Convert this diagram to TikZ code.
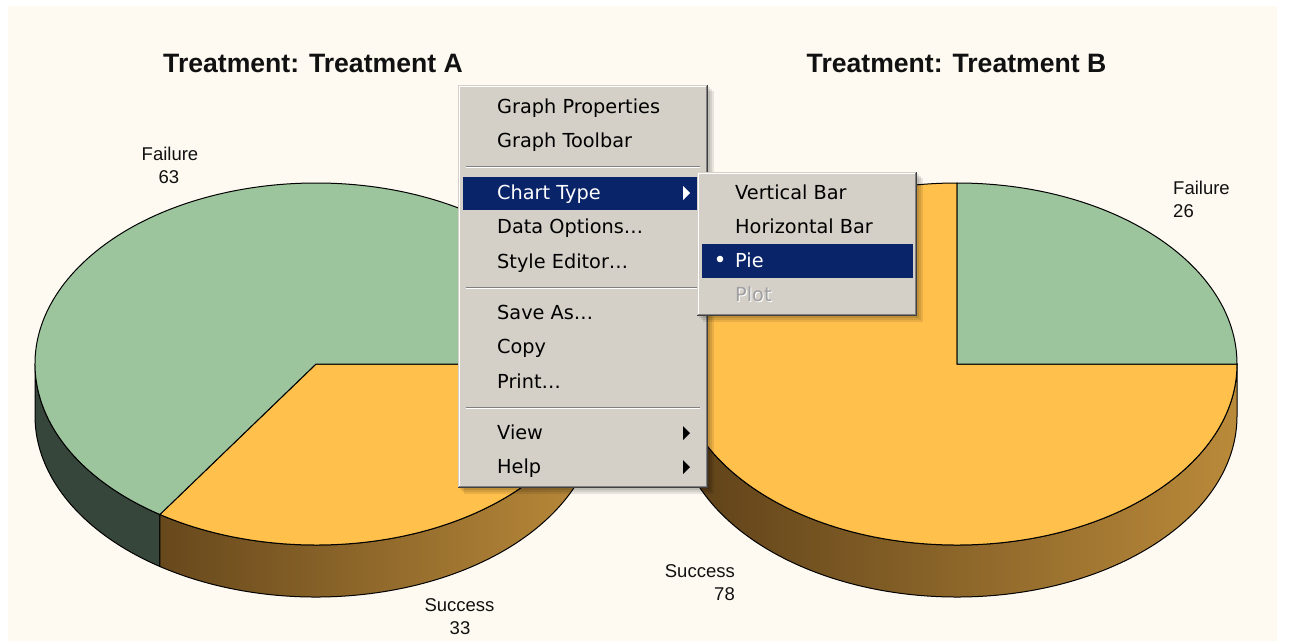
\documentclass[tikz,border=0pt]{standalone}
\usepackage{fontspec}
\setmainfont{Liberation Sans}
\newfontfamily\menufont{DejaVu Sans}
\definecolor{cream}{HTML}{FEFAF2}
\definecolor{piegreen}{HTML}{9DC59D}
\definecolor{pieorange}{HTML}{FFC04C}
\definecolor{sidegreen}{HTML}{37463A}
\definecolor{brownL}{HTML}{5E4119}
\definecolor{brownR}{HTML}{BA8A3A}
\definecolor{menugray}{HTML}{D4D0C8}
\definecolor{menudark}{HTML}{404040}
\definecolor{menumid}{HTML}{808080}
\definecolor{menuhi}{HTML}{0A246A}
\definecolor{menudis}{HTML}{A0A0A0}
\definecolor{inktext}{HTML}{111111}
\tikzset{
  pieedge/.style={draw=black, line width=1pt},
  titletext/.style={font=\bfseries\fontsize{26.6}{30}\selectfont, text=inktext, inner sep=0pt, anchor=base},
  pielabel/.style={font=\fontsize{18.5}{21}\selectfont, text=inktext, inner sep=0pt},
  menutext/.style={font=\menufont\fontsize{19.3}{22}\selectfont, anchor=base west, inner sep=0pt, text=black},
  menushadow/.style={fill=black, opacity=0.09},
  menuarrow/.style={fill=black},
}
\begin{document}
\begin{tikzpicture}[x=1pt,y=-1pt]
\useasboundingbox (0,0) rectangle (1316,641);
\fill[white] (0,0) rectangle (1316,641);
\fill[cream] (8,6) rectangle (1277,641);

% titles
\node[titletext] (titleA) at (313,72) {Treatment: Treatment A};
\node[titletext] (titleB) at (956.5,72) {Treatment: Treatment B};

% ---------- left pie ----------
\begin{scope}[shift={(316,364)}]
  \filldraw[fill=sidegreen, pieedge] (123.75:281 and 181) arc[start angle=123.75,end angle=180,x radius=281,y radius=181] -- ++(0,52) arc[start angle=180,end angle=123.75,x radius=281,y radius=181] -- cycle;
  \shade[left color=brownL!90!brownR, right color=brownR] (0:281 and 181) arc[start angle=0,end angle=123.75,x radius=281,y radius=181] -- ++(0,52) arc[start angle=123.75,end angle=0,x radius=281,y radius=181] -- cycle;
  \draw[pieedge] (0:281 and 181) arc[start angle=0,end angle=123.75,x radius=281,y radius=181] -- ++(0,52) arc[start angle=123.75,end angle=0,x radius=281,y radius=181] -- cycle;
  \filldraw[fill=pieorange, pieedge] (0,0) -- (0:281 and 181) arc[start angle=0,end angle=123.75,x radius=281,y radius=181] -- cycle;
  \filldraw[fill=piegreen, pieedge] (0,0) -- (123.75:281 and 181) arc[start angle=123.75,end angle=360,x radius=281,y radius=181] -- cycle;
\end{scope}

% ---------- right pie ----------
\begin{scope}[shift={(957,364)}]
  \shade[left color=brownL, right color=brownR] (0:280 and 181) arc[start angle=0,end angle=180,x radius=280,y radius=181] -- ++(0,52) arc[start angle=180,end angle=0,x radius=280,y radius=181] -- cycle;
  \draw[pieedge] (0:280 and 181) arc[start angle=0,end angle=180,x radius=280,y radius=181] -- ++(0,52) arc[start angle=180,end angle=0,x radius=280,y radius=181] -- cycle;
  \filldraw[fill=pieorange, pieedge] (0,0) -- (0:280 and 181) arc[start angle=0,end angle=270,x radius=280,y radius=181] -- cycle;
  \filldraw[fill=piegreen, pieedge] (0,0) -- (270:280 and 181) arc[start angle=270,end angle=360,x radius=280,y radius=181] -- cycle;
\end{scope}

% pie labels
\node[pielabel, anchor=base] (lfail) at (170,160) {Failure};
\node[pielabel, anchor=base] (lfailv) at (169,183) {63};
\node[pielabel, anchor=base] (lsucc) at (459.5,611) {Success};
\node[pielabel, anchor=base] (lsuccv) at (460,634) {33};
\node[pielabel, anchor=base west] (rfail) at (1173,194) {Failure};
\node[pielabel, anchor=base west] (rfailv) at (1173,217) {26};
\node[pielabel, anchor=base east] (rsucc) at (735,577) {Success};
\node[pielabel, anchor=base east] (rsuccv) at (735,600) {78};

% ---------- main context menu ----------
\fill[menushadow] (464,91) rectangle (714,494);
\fill[menushadow] (462,89) rectangle (712,492);
\fill[menushadow] (460,87) rectangle (710,490);
\fill[menugray] (458,85) rectangle (708,488);
\draw[white, line width=1pt] (459.5,486.5) -- (459.5,86.5) -- (706.5,86.5);
\draw[menumid, line width=1pt] (459,486.5) -- (706.5,486.5) -- (706.5,86);
\draw[menudark, line width=1pt] (458,487.5) -- (707.5,487.5) -- (707.5,85);

% separators
\foreach \sy in {166.5,287.5,407.5} {
  \draw[menumid, line width=1pt] (466,\sy) -- (700,\sy);
  \draw[white, line width=1pt] (466,\sy+1) -- (700,\sy+1);
}

% highlight
\fill[menuhi] (463,177) rectangle (697,210);

\node[menutext] (mGP) at (497,113) {Graph Properties};
\node[menutext] (mGT) at (497,147) {Graph Toolbar};
\node[menutext, text=white] (mCT) at (497,199) {Chart Type};
\node[menutext] (mDO) at (497,233) {Data Options…};
\node[menutext] (mSE) at (497,268) {Style Editor…};
\node[menutext] (mSA) at (497,319) {Save As…};
\node[menutext] (mCP) at (497,353) {Copy};
\node[menutext] (mPR) at (497,388) {Print…};
\node[menutext] (mVW) at (497,439) {View};
\node[menutext] (mHL) at (497,473) {Help};

\fill[white] (683,186) -- (690,193) -- (683,200) -- cycle;
\fill[menuarrow] (683,426) -- (690,433) -- (683,440) -- cycle;
\fill[menuarrow] (683,460) -- (690,467) -- (683,474) -- cycle;

% ---------- submenu ----------
\fill[menushadow] (703,178) rectangle (923,322);
\fill[menushadow] (701,176) rectangle (921,320);
\fill[menushadow] (699,174) rectangle (919,318);
\fill[menugray] (697,172) rectangle (917,316);
\draw[white, line width=1pt] (698.5,314.5) -- (698.5,173.5) -- (915.5,173.5);
\draw[menumid, line width=1pt] (698,314.5) -- (915.5,314.5) -- (915.5,173);
\draw[menudark, line width=1pt] (697,315.5) -- (916.5,315.5) -- (916.5,172);

\fill[menuhi] (702,244) rectangle (913,278);
\node[menutext] (sVB) at (735,199) {Vertical Bar};
\node[menutext] (sHB) at (735,233) {Horizontal Bar};
\node[menutext, text=white] (sPI) at (735,267) {Pie};
\node[menutext, text=white] (sPLs) at (736,302) {Plot};
\node[menutext, text=menudis] (sPL) at (735,301) {Plot};
\fill[white] (720,259) circle[radius=3.3];

\end{tikzpicture}
\end{document}
